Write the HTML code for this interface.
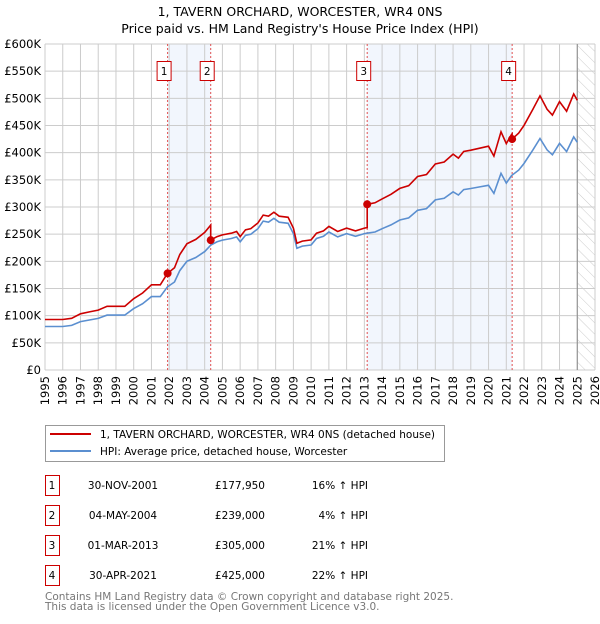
<!DOCTYPE html>
<html><head><meta charset="utf-8"><style>
body{margin:0;background:#fff;width:600px;height:620px;overflow:hidden;font-family:"DejaVu Sans","Liberation Sans",sans-serif}
svg text{font-family:"DejaVu Sans","Liberation Sans",sans-serif}
</style></head><body>
<svg id="chart" width="600" height="620" viewBox="0 0 600 620" xmlns="http://www.w3.org/2000/svg">
<text x="300" y="16" text-anchor="middle" font-size="12.5">1, TAVERN ORCHARD, WORCESTER, WR4 0NS</text>
<text x="300" y="33" text-anchor="middle" font-size="12.5">Price paid vs. HM Land Registry's House Price Index (HPI)</text>
<defs><pattern id="hatch" width="8" height="8" patternUnits="userSpaceOnUse" patternTransform="rotate(-45)"><line x1="0" y1="0" x2="0" y2="8" stroke="#ccc" stroke-width="1"/></pattern></defs>
<g id="plot"></g>
<g>
<rect x="45.5" y="425.5" width="399" height="36" fill="#fff" stroke="#999"/>
<line x1="50" y1="434" x2="91" y2="434" stroke="#cc0000" stroke-width="2"/>
<text x="100" y="438" font-size="10.5">1, TAVERN ORCHARD, WORCESTER, WR4 0NS (detached house)</text>
<line x1="50" y1="451" x2="91" y2="451" stroke="#5b8fd0" stroke-width="2"/>
<text x="100" y="455" font-size="10.5">HPI: Average price, detached house, Worcester</text>
</g>
<g id="table"></g>
<text x="45" y="600" font-size="10.5" fill="#777">Contains HM Land Registry data © Crown copyright and database right 2025.</text>
<text x="45" y="610" font-size="10.5" fill="#777">This data is licensed under the Open Government Licence v3.0.</text>
</svg>
<script>
const hpiYears=[1995,1995.5,1996,1996.5,1997,1997.5,1998,1998.5,1999,1999.5,2000,2000.5,2001,2001.5,2001.9,2002.3,2002.6,2003,2003.5,2004,2004.35,2004.7,2005,2005.5,2005.8,2006,2006.3,2006.6,2007,2007.3,2007.6,2007.9,2008.2,2008.7,2009,2009.2,2009.5,2010,2010.3,2010.7,2011,2011.5,2012,2012.5,2013,2013.2,2013.6,2014,2014.5,2015,2015.5,2016,2016.5,2017,2017.5,2018,2018.3,2018.6,2019,2019.5,2020,2020.3,2020.7,2021,2021.3,2021.7,2022,2022.5,2022.9,2023.3,2023.6,2024,2024.4,2024.8,2025];
const hpiValues=[80,80,80,82,89,92,95,101,101,101,113,122,135,135,153,162,183,200,207,218,230,236,239,242,245,236,248,250,260,274,272,279,272,270,251,224,228,230,242,246,254,245,251,246,251,252,254,260,267,276,280,294,297,313,316,328,322,332,334,337,340,325,362,344,358,368,380,405,426,405,396,417,402,429,419];
const saleDates=[2001.91,2004.34,2013.16,2021.33];
const salePrices=[177950,239000,305000,425000];
const saleLabels=["1","2","3","4"];
const saleDateText=["30-NOV-2001","04-MAY-2004","01-MAR-2013","30-APR-2021"];
const salePriceText=["£177,950","£239,000","£305,000","£425,000"];
const salePctText=["16% ↑ HPI","4% ↑ HPI","21% ↑ HPI","22% ↑ HPI"];
const yTicks=[0,50,100,150,200,250,300,350,400,450,500,550,600];
const xTicks=[1995,1996,1997,1998,1999,2000,2001,2002,2003,2004,2005,2006,2007,2008,2009,2010,2011,2012,2013,2014,2015,2016,2017,2018,2019,2020,2021,2022,2023,2024,2025,2026];

const X0=45,X1=595,Y0=370,Y1=44;
const xs=y=>X0+(y-1995)/(2026-1995)*(X1-X0);
const ys=v=>Y0-v/600*(Y0-Y1);
const NS="http://www.w3.org/2000/svg";
function mk(tag,attrs,parent,txt){const e=document.createElementNS(NS,tag);for(const k in attrs)e.setAttribute(k,attrs[k]);if(txt!==undefined)e.textContent=txt;parent.appendChild(e);return e;}
function hpiAt(t){for(let i=1;i<hpiYears.length;i++){if(t<=hpiYears[i]){const f=(t-hpiYears[i-1])/(hpiYears[i]-hpiYears[i-1]);return hpiValues[i-1]+f*(hpiValues[i]-hpiValues[i-1]);}}return hpiValues[hpiValues.length-1];}
const plot=document.getElementById('plot');
for(let i=0;i<saleDates.length;i+=2){
 const r=mk('rect',{x:xs(saleDates[i]),y:Y1,width:xs(saleDates[i+1])-xs(saleDates[i]),height:Y0-Y1,fill:'#f2f6fd'},plot);
 
 
}
const hr=mk('rect',{x:xs(2025),y:Y1,width:X1-xs(2025),height:Y0-Y1,fill:'url(#hatch)'},plot);


yTicks.forEach(v=>{
 const l=mk('line',{x1:X0,x2:X1,y1:ys(v),y2:ys(v),stroke:'#ccc','stroke-width':1},plot);
 
 
 const t=mk('text',{x:X0-4,y:ys(v)+4,'text-anchor':'end','font-size':11.5},plot,v===0?'£0':'£'+v+'K');
 
 
});
xTicks.forEach(y=>{
 const l=mk('line',{x1:xs(y),x2:xs(y),y1:Y1,y2:Y0,stroke:'#ccc','stroke-width':1},plot);
 
 
 const t=mk('text',{x:0,y:0,'text-anchor':'end','font-size':11.5,transform:`translate(${xs(y)+4},${Y0+6}) rotate(-90)`},plot,String(y));
 
 
});
const vl=mk('line',{x1:xs(2025),x2:xs(2025),y1:Y1,y2:Y0,stroke:'#888','stroke-width':1},plot);


saleDates.forEach((d,i)=>{
 const l=mk('line',{x1:xs(d),x2:xs(d),y1:Y1,y2:Y0,stroke:'#e05050','stroke-width':1,'stroke-dasharray':'2,2'},plot);
 
 
 const b=mk('rect',{x:xs(d)-10.5,y:61.5,width:14,height:19,fill:'#fff',stroke:'#cc0000'},plot);
 
 
 const t=mk('text',{x:xs(d)-3.5,y:75,'text-anchor':'middle','font-size':10.5},plot,saleLabels[i]);
 
 
});
let dh='';hpiYears.forEach((y,i)=>{dh+=(i?'L':'M')+xs(y).toFixed(1)+','+ys(hpiValues[i]).toFixed(1);});
const hp=mk('path',{d:dh,fill:'none',stroke:'#5b8fd0','stroke-width':1.6},plot);


function factorAt(t){let k=0;for(let i=0;i<saleDates.length;i++)if(t>=saleDates[i])k=i;return salePrices[k]/1000/hpiAt(saleDates[k]);}
const pts=[...hpiYears,...saleDates].sort((a,b)=>a-b);
let dr='';
pts.forEach((t,i)=>{
 const si=saleDates.indexOf(t);
 if(si>0){dr+='L'+xs(t).toFixed(1)+','+ys(hpiAt(t)*salePrices[si-1]/1000/hpiAt(saleDates[si-1])).toFixed(1);}
 dr+=(i?'L':'M')+xs(t).toFixed(1)+','+ys(hpiAt(t)*factorAt(t)).toFixed(1);
});
const rp=mk('path',{d:dr,fill:'none',stroke:'#cc0000','stroke-width':1.6},plot);


saleDates.forEach((d,i)=>{
 const c=mk('circle',{cx:xs(d),cy:ys(salePrices[i]/1000),r:4,fill:'#cc0000'},plot);
 
 
});
const tb=document.getElementById('table');
saleDates.forEach((d,i)=>{
 const yy=475+i*30;
 const b=mk('rect',{x:45.5,y:yy+0.5,width:14,height:20,fill:'#fff',stroke:'#cc0000'},tb);
 
 
 const cells=[[52,'middle',saleLabels[i]],[123,'middle',saleDateText[i]],[265,'end',salePriceText[i]],[368,'end',salePctText[i]]];
 cells.forEach((c,j)=>{
  const t=mk('text',{x:c[0],y:yy+14,'text-anchor':c[1],'font-size':10.5},tb,c[2]);
  
  
 });
});
</script>
</body></html>
